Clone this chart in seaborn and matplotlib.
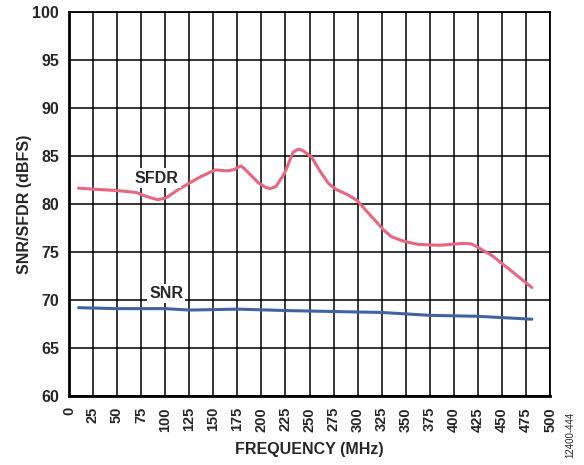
import matplotlib
matplotlib.use("Agg")
import matplotlib.pyplot as plt
import seaborn as sns
import pandas as pd
import numpy as np

# values
sfdr_freq = [10, 25, 50, 70, 80, 92, 100, 105, 112, 122, 136, 152, 165, 172, 176, 179, 182, 186,
             192, 197, 204, 209, 215, 224, 233, 237, 240, 244, 252, 261, 270, 278, 289, 299,
             313, 327, 335, 347, 362, 385, 410, 418, 423, 440, 460, 481]
sfdr_db = [81.65, 81.55, 81.4, 81.2, 80.8, 80.45, 80.6, 80.9, 81.4, 82.0, 82.8, 83.55,
           83.45, 83.6, 83.85, 83.95, 83.7, 83.3, 82.7, 82.2, 81.75, 81.6, 81.8, 83.2,
           85.4, 85.65, 85.7, 85.5, 84.9, 83.4, 82.1, 81.5, 81.0, 80.4, 78.85, 77.3,
           76.6, 76.15, 75.8, 75.7, 75.9, 75.85, 75.6, 74.6, 73.0, 71.3]

snr_freq = [10, 50, 100, 125, 175, 225, 275, 325, 350, 375, 425, 481]
snr_db = [69.2, 69.1, 69.1, 68.95, 69.05, 68.9, 68.8, 68.7, 68.55, 68.4, 68.3, 68.0]

x_ticks = list(range(0, 525, 25))
y_ticks = list(range(60, 105, 5))

sfdr_color = "#E8677F"
snr_color = "#3F64A2"

sns.set_style("white")
plt.rcParams["font.family"] = ["Liberation Sans", "DejaVu Sans"]

fig = plt.figure(figsize=(5.84, 4.65), dpi=100)
ax = fig.add_axes([0.118, 0.1484, 0.824, 0.8258])

df_sfdr = pd.DataFrame({"freq": sfdr_freq, "db": sfdr_db})
df_snr = pd.DataFrame({"freq": snr_freq, "db": snr_db})
sns.lineplot(data=df_sfdr, x="freq", y="db", color=sfdr_color, linewidth=2.2, ax=ax, zorder=3)
sns.lineplot(data=df_snr, x="freq", y="db", color=snr_color, linewidth=2.2, ax=ax, zorder=3)

ax.set_xlim(0, 500)
ax.set_ylim(60, 100)
ax.set_xticks(x_ticks)
ax.set_yticks(y_ticks)
ax.set_xticklabels([str(t) for t in x_ticks], rotation=90, fontsize=10.5, fontweight="bold")
ax.set_yticklabels([str(t) for t in y_ticks], fontsize=11.5, fontweight="bold")
ax.tick_params(axis="both", length=0)
ax.tick_params(axis="x", pad=8)
ax.tick_params(axis="y", pad=7)
ax.grid(True, color="black", linewidth=1.1, zorder=1)
ax.set_axisbelow(True)
for s in ax.spines.values():
    s.set_color("black")
    s.set_linewidth(1.3)
ax.spines["left"].set_linewidth(2)
ax.spines["bottom"].set_linewidth(2)

ax.set_xlabel("FREQUENCY (MHz)", fontsize=11.5, fontweight="bold", labelpad=7)
ax.set_ylabel("SNR/SFDR (dBFS)", fontsize=11.5, fontweight="bold", labelpad=0)

box = dict(facecolor="white", edgecolor="none", pad=1.5)
ax.text(91, 82.7, "SFDR", fontsize=11.5, fontweight="bold", ha="center", va="center", bbox=box, zorder=4)
ax.text(101, 70.7, "SNR", fontsize=11.5, fontweight="bold", ha="center", va="center", bbox=box, zorder=4)

fig.text(0.976, 0.065, "12400-444", rotation=90, fontsize=7, ha="center", va="center")

fig.savefig("out.png", dpi=100)
